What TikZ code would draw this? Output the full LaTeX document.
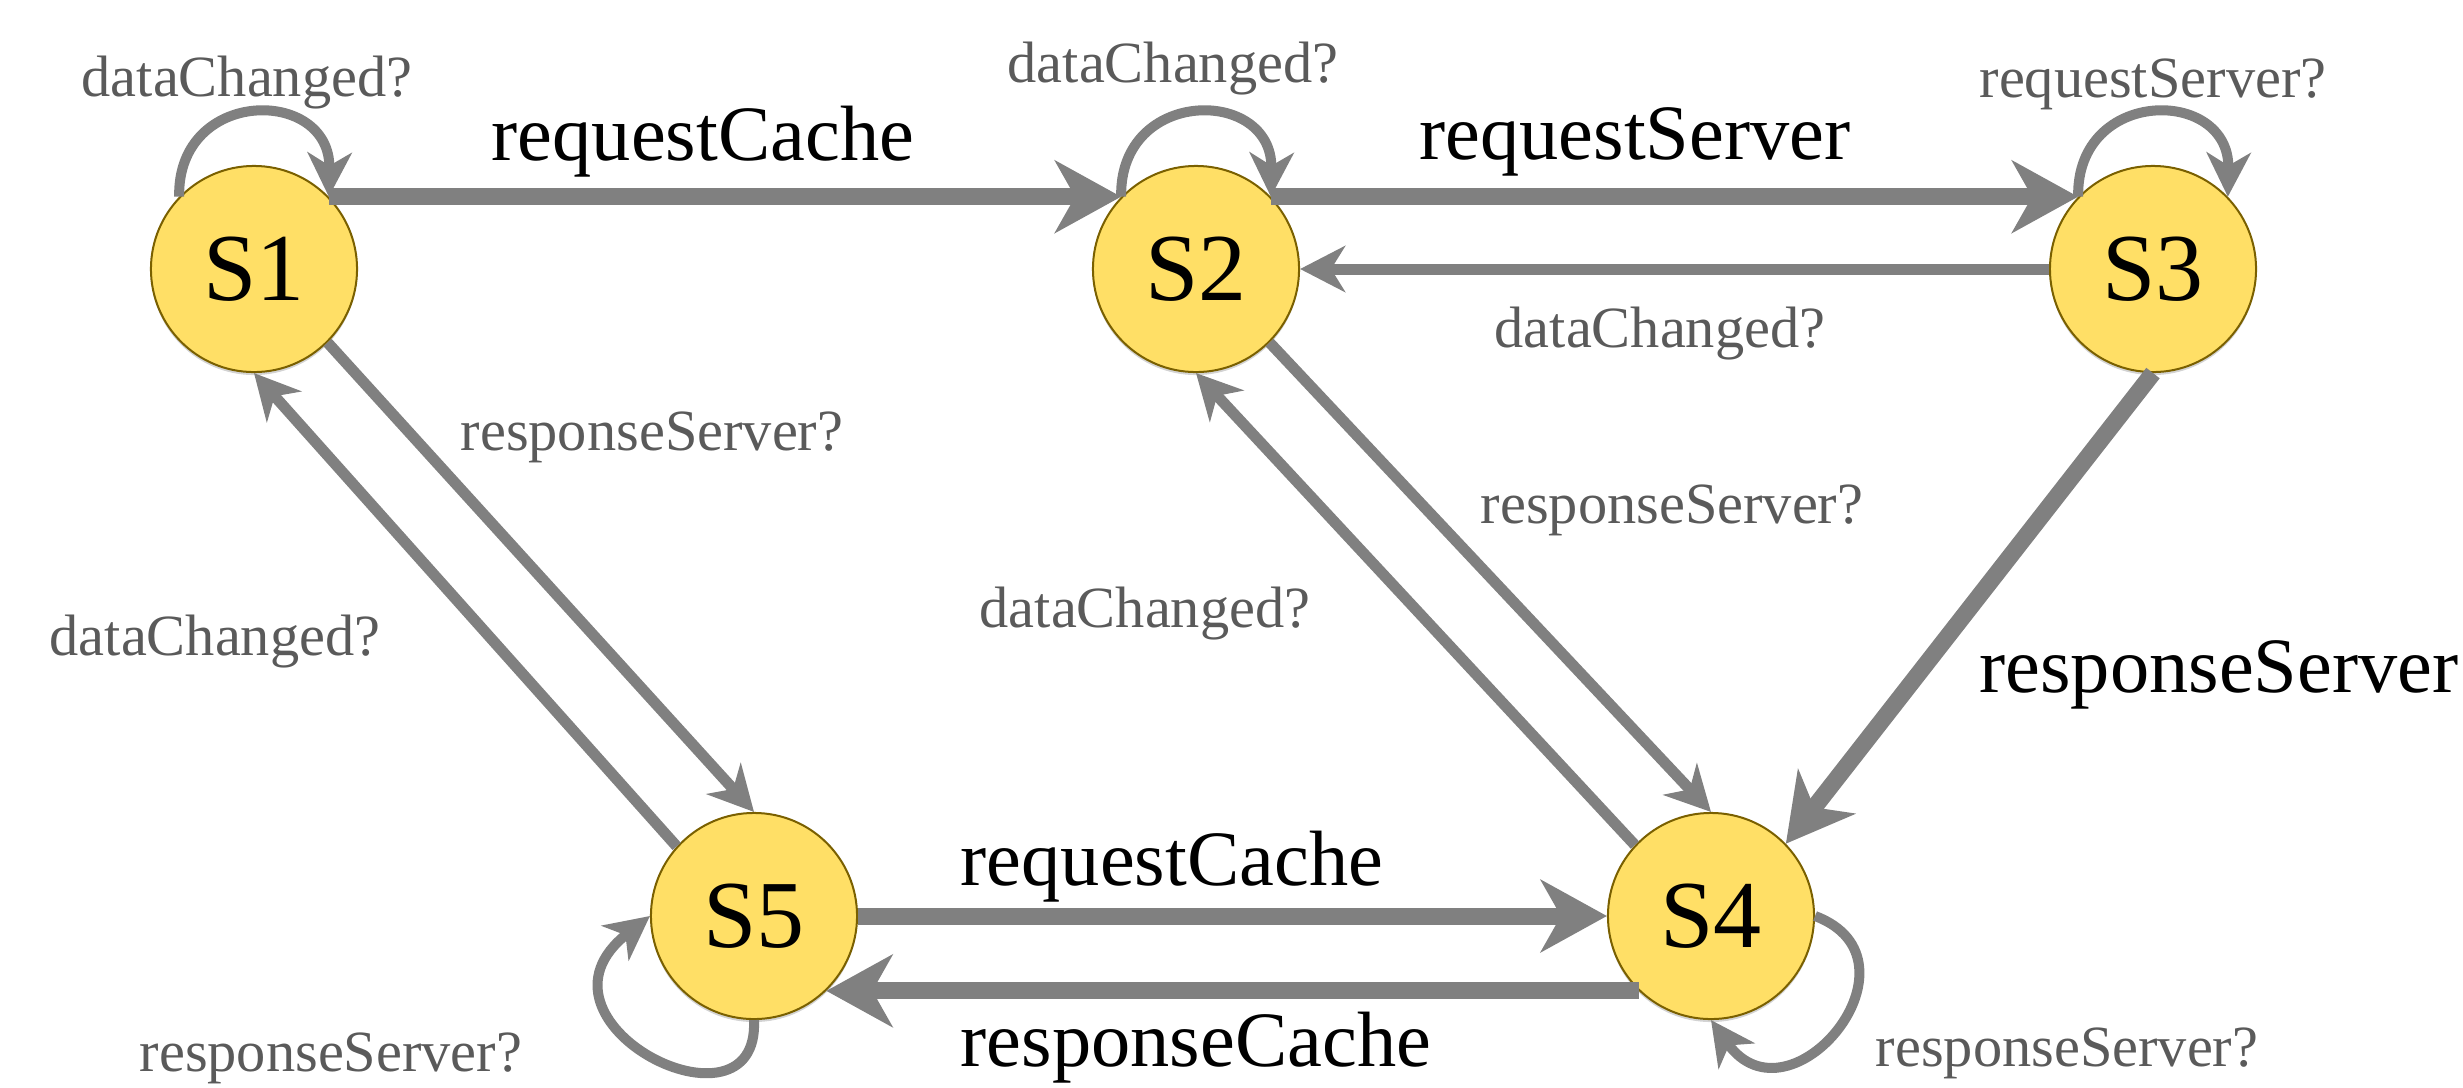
\documentclass[tikz,border=0pt]{standalone}
\usepackage{fontspec}
\setmainfont{Liberation Serif}
\usetikzlibrary{arrows.meta,shadows}
\definecolor{nodefill}{HTML}{FFDF66}
\definecolor{nodeline}{HTML}{7A6000}
\definecolor{edgegray}{HTML}{808080}
\definecolor{labgray}{HTML}{5A5A5A}
\tikzset{
  state/.style={circle, draw=nodeline, line width=0.02cm, fill=nodefill, minimum size=2.06cm, inner sep=0pt,
    font=\fontsize{27.3pt}{30pt}\selectfont, drop shadow={opacity=0.35, shadow xshift=0pt, shadow yshift=-0.03cm}},
  biglab/.style={anchor=base, inner sep=0pt, font=\fontsize{22.3pt}{26pt}\selectfont, text=black},
  smalllab/.style={anchor=base, inner sep=0pt, font=\fontsize{16.6pt}{20pt}\selectfont, text=labgray},
  thickedge/.style={draw=edgegray, line width=0.17cm, -{Stealth[length=0.66cm, width=0.72cm, inset=0.2cm]}},
  thinedge/.style={draw=edgegray, line width=0.11cm, -{Stealth[length=0.45cm, width=0.46cm, inset=0.14cm]}},
  loopedge/.style={draw=edgegray, line width=0.10cm, -{Stealth[length=0.44cm, width=0.44cm, inset=0.13cm]}},
}
\begin{document}
\begin{tikzpicture}[x=0.01cm, y=-0.01cm]
\useasboundingbox (0,0) rectangle (2463,1087);
% states
\node[state] (S1) at (254,269) {S1};
\node[state] (S2) at (1196,269) {S2};
\node[state] (S3) at (2153,269) {S3};
\node[state] (S4) at (1711,916) {S4};
\node[state] (S5) at (754,916) {S5};
% edges
\draw[thickedge] (S1.44) -- (S2.136);
\draw[thickedge] (S2.44) -- (S3.136);
\draw[thinedge] (S3.west) -- (S2.east);
\draw[thinedge] (S1.-45) -- (S5.north);
\draw[thinedge] (S5.138) -- (S1.south);
\draw[thinedge] (S2.-45) -- (S4.north);
\draw[thinedge] (S4.137) -- (S2.south);
\draw[thickedge] (S3.south) -- (S4.44);
\draw[thickedge] (S5.east) -- (S4.west);
\draw[thickedge] (S4.226) -- (S5.-46);
% loops
\draw[loopedge] (S1.136) .. controls +(-2,-110) and +(2,-110) .. (S1.44);
\draw[loopedge] (S2.136) .. controls +(-2,-110) and +(2,-110) .. (S2.44);
\draw[loopedge] (S3.136) .. controls +(-2,-110) and +(2,-110) .. (S3.44);
\draw[loopedge] (S5.south) .. controls +(6,125) and +(-136,106) .. (S5.west);
\draw[loopedge] (S4.east) .. controls +(116,44) and +(79,111) .. (S4.south);
% labels
\node[smalllab] (l1) at (247,96) {dataChanged?};
\node[biglab] (l2) at (703,160) {requestCache};
\node[smalllab] (l3) at (1173,82) {dataChanged?};
\node[biglab] (l4) at (1635,159) {requestServer};
\node[smalllab] (l5) at (2153,97) {requestServer?};
\node[smalllab] (l6) at (1660,347) {dataChanged?};
\node[smalllab] (l7) at (652,450) {responseServer?};
\node[smalllab] (l8) at (215,655) {dataChanged?};
\node[smalllab] (l9) at (1672,523) {responseServer?};
\node[smalllab] (l10) at (1145,627) {dataChanged?};
\node[biglab] (l11) at (2219,692) {responseServer};
\node[biglab] (l12) at (1172,885) {requestCache};
\node[biglab] (l13) at (1196,1066) {responseCache};
\node[smalllab] (l14) at (331,1071) {responseServer?};
\node[smalllab] (l15) at (2067,1066) {responseServer?};
\end{tikzpicture}
\end{document}
